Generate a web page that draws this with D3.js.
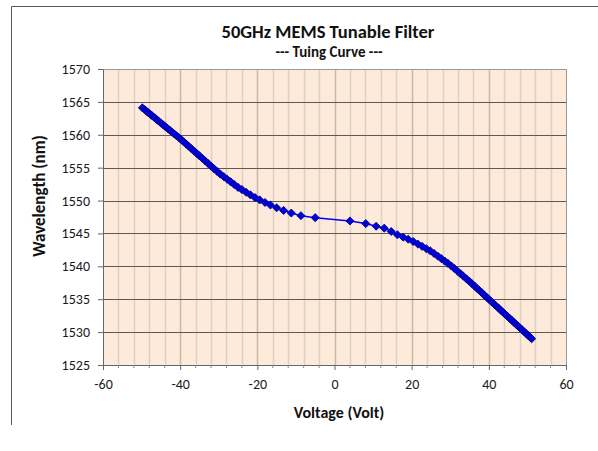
<!DOCTYPE html>
<html>
<head>
<meta charset="utf-8">
<script src="https://cdn.jsdelivr.net/npm/d3@7"></script>
<style>
  body { margin: 0; background: #fff; }
  text { font-family: Calibri, Carlito, Lato, "Open Sans", sans-serif; }
</style>
</head>
<body>
<div id="plot"></div>
<script>
// tuning curve
let voltage = [
    -49.8, -49.2, -48.7, -48.2, -47.7, -47.2, -46.6, -46.1, -45.6, -45.0,
    -44.4, -43.9, -43.3, -42.7, -42.1, -41.5, -40.9, -40.3, -39.7, -39.1,
    -38.4, -37.8, -37.1, -36.4, -35.7, -35.0, -34.3, -33.5, -32.8, -32.0,
    -31.2, -30.4, -29.6, -28.7, -27.8, -26.9, -26.0, -25.0, -24.0, -22.9,
    -21.8, -20.6, -19.4, -18.0, -16.6, -15.0, -13.2, -11.2, -8.7, -5.0,
    4.0, 8.1, 10.8, 12.9, 14.7, 16.3, 17.8, 19.1, 20.4, 21.6,
    22.7, 23.8, 24.8, 25.8, 26.8, 27.7, 28.6, 29.4, 30.3, 31.1,
    31.9, 32.7, 33.4, 34.2, 34.9, 35.6, 36.3, 37.0, 37.6, 38.3,
    38.9, 39.6, 40.2, 40.8, 41.4, 42.0, 42.6, 43.2, 43.8, 44.3,
    44.9, 45.5, 46.0, 46.5, 47.1, 47.6, 48.1, 48.6, 49.2, 49.7,
    50.2, 50.7, 51.1
];
let wavelength = [
    1564.10, 1563.81, 1563.57, 1563.33, 1563.09, 1562.85, 1562.57, 1562.33, 1562.09, 1561.80,
    1561.51, 1561.27, 1560.98, 1560.70, 1560.41, 1560.12, 1559.83, 1559.54, 1559.24, 1558.93,
    1558.57, 1558.26, 1557.89, 1557.53, 1557.16, 1556.80, 1556.44, 1556.02, 1555.66, 1555.24,
    1554.82, 1554.41, 1554.02, 1553.63, 1553.23, 1552.84, 1552.44, 1552.00, 1551.67, 1551.26,
    1550.87, 1550.45, 1550.10, 1549.70, 1549.32, 1548.90, 1548.50, 1548.10, 1547.70, 1547.40,
    1546.90, 1546.50, 1546.10, 1545.80, 1545.30, 1544.80, 1544.44, 1544.12, 1543.77, 1543.39,
    1543.04, 1542.68, 1542.36, 1541.96, 1541.54, 1541.17, 1540.79, 1540.45, 1540.05, 1539.65,
    1539.25, 1538.85, 1538.50, 1538.10, 1537.75, 1537.38, 1537.00, 1536.62, 1536.30, 1535.92,
    1535.59, 1535.22, 1534.89, 1534.57, 1534.24, 1533.92, 1533.60, 1533.27, 1532.95, 1532.68,
    1532.35, 1532.03, 1531.76, 1531.49, 1531.17, 1530.90, 1530.63, 1530.36, 1530.03, 1529.76,
    1529.49, 1529.22, 1529.00
];
let xTicks = [-60, -40, -20, 0, 20, 40, 60];
let yTicks = [1525, 1530, 1535, 1540, 1545, 1550, 1555, 1560, 1565, 1570];

let W = 598, H = 451;
let margin = { top: 69, right: 32, bottom: 86, left: 103 },
    width = W - margin.left - margin.right,
    height = H - margin.top - margin.bottom;

let root = d3.select('#plot')
    .append('svg')
        .attr('width', W)
        .attr('height', H);

// outer chart frame (only top and left edges show)
root.append('path')
    .attr('d', 'M11.5,' + (H - 26) + 'V6.5H' + W)
    .attr('fill', 'none')
    .attr('stroke', '#595959')
    .attr('stroke-width', 1);

let svg = root.append('g')
    .attr('transform', 'translate(' + margin.left + ',' + margin.top + ')');

let x = d3.scaleLinear().domain([-60, 60]).range([0, width]);
let y = d3.scaleLinear().domain([1525, 1570]).range([height, 0]);

svg.append('rect')
    .attr('width', width)
    .attr('height', height)
    .attr('fill', '#FDEADA');

// vertical grid, minor every 4 V, major every 20 V
svg.append('g')
    .selectAll('line')
    .data(d3.range(-56, 60, 4))
    .enter()
    .append('line')
        .attr('x1', d => Math.round(x(d)) + 0.5)
        .attr('x2', d => Math.round(x(d)) + 0.5)
        .attr('y1', 0)
        .attr('y2', height)
        .attr('stroke', d => d % 20 === 0 ? '#C8B8A8' : '#DDD0C4')
        .attr('stroke-width', 1.5);

// horizontal grid
svg.append('g')
    .selectAll('line')
    .data(yTicks.slice(1))
    .enter()
    .append('line')
        .attr('x1', 0)
        .attr('x2', width)
        .attr('y1', d => Math.round(y(d)) + 0.5)
        .attr('y2', d => Math.round(y(d)) + 0.5)
        .attr('stroke', '#5E5955')
        .attr('stroke-width', 1);

// plot border
svg.append('rect')
    .attr('x', 0.5)
    .attr('y', 0.5)
    .attr('width', width)
    .attr('height', height)
    .attr('fill', 'none')
    .attr('stroke', '#999');

let xAxis = d3.axisBottom(x)
    .tickValues(xTicks)
    .tickFormat(d => String(d))
    .tickSize(5)
    .tickSizeOuter(0)
    .tickPadding(9);

let gx = svg.append('g')
    .attr('transform', 'translate(0,' + height + ')')
    .call(xAxis);

let yAxis = d3.axisLeft(y)
    .tickValues(yTicks)
    .tickFormat(d => String(d))
    .tickSize(5)
    .tickSizeOuter(0)
    .tickPadding(8);

let gy = svg.append('g')
    .call(yAxis);

[gx, gy].forEach(function(g) {
    g.select('.domain').attr('stroke', '#666');
    g.selectAll('.tick line').attr('stroke', '#666');
    g.selectAll('.tick text')
        .attr('fill', '#1a1a1a')
        .style('font-size', '14px');
});

// minor x ticks
svg.append('g')
    .selectAll('line')
    .data(d3.range(-56, 60, 4).filter(d => d % 20 !== 0))
    .enter()
    .append('line')
        .attr('x1', d => x(d))
        .attr('x2', d => x(d))
        .attr('y1', height)
        .attr('y2', height + 3)
        .attr('stroke', '#888');

let pts = voltage.map(function(v, i) { return { v: v, w: wavelength[i] }; });

let line = d3.line()
    .x(d => x(d.v))
    .y(d => y(d.w));

svg.append('path')
    .datum(pts)
    .attr('d', line)
    .attr('fill', 'none')
    .attr('stroke', '#0000FF')
    .attr('stroke-width', 1.5);

let diamond = d3.symbol().type(d3.symbolDiamond2).size(42);

svg.append('g')
    .selectAll('path')
    .data(pts)
    .enter()
    .append('path')
        .attr('d', diamond)
        .attr('transform', d => 'translate(' + x(d.v) + ',' + y(d.w) + ')')
        .attr('fill', '#0000D8')
        .attr('stroke', '#000080')
        .attr('stroke-width', 0.8);

// titles
root.append('text')
    .attr('x', 328)
    .attr('y', 38)
    .attr('text-anchor', 'middle')
    .style('font-size', '18.5px')
    .style('font-weight', 'bold')
    .attr('fill', '#111')
    .text('50GHz MEMS Tunable Filter');

root.append('text')
    .attr('x', 329)
    .attr('y', 57)
    .attr('text-anchor', 'middle')
    .style('font-size', '15px')
    .style('font-weight', 'bold')
    .attr('fill', '#111')
    .text('--- Tuing Curve ---');

root.append('text')
    .attr('x', 339)
    .attr('y', 418)
    .attr('text-anchor', 'middle')
    .style('font-size', '16px')
    .style('font-weight', 'bold')
    .attr('fill', '#111')
    .text('Voltage (Volt)');

root.append('text')
    .attr('transform', 'translate(45,196) rotate(-90)')
    .attr('text-anchor', 'middle')
    .style('font-size', '17px')
    .style('font-weight', 'bold')
    .attr('fill', '#111')
    .text('Wavelength (nm)');
</script>
</body>
</html>
